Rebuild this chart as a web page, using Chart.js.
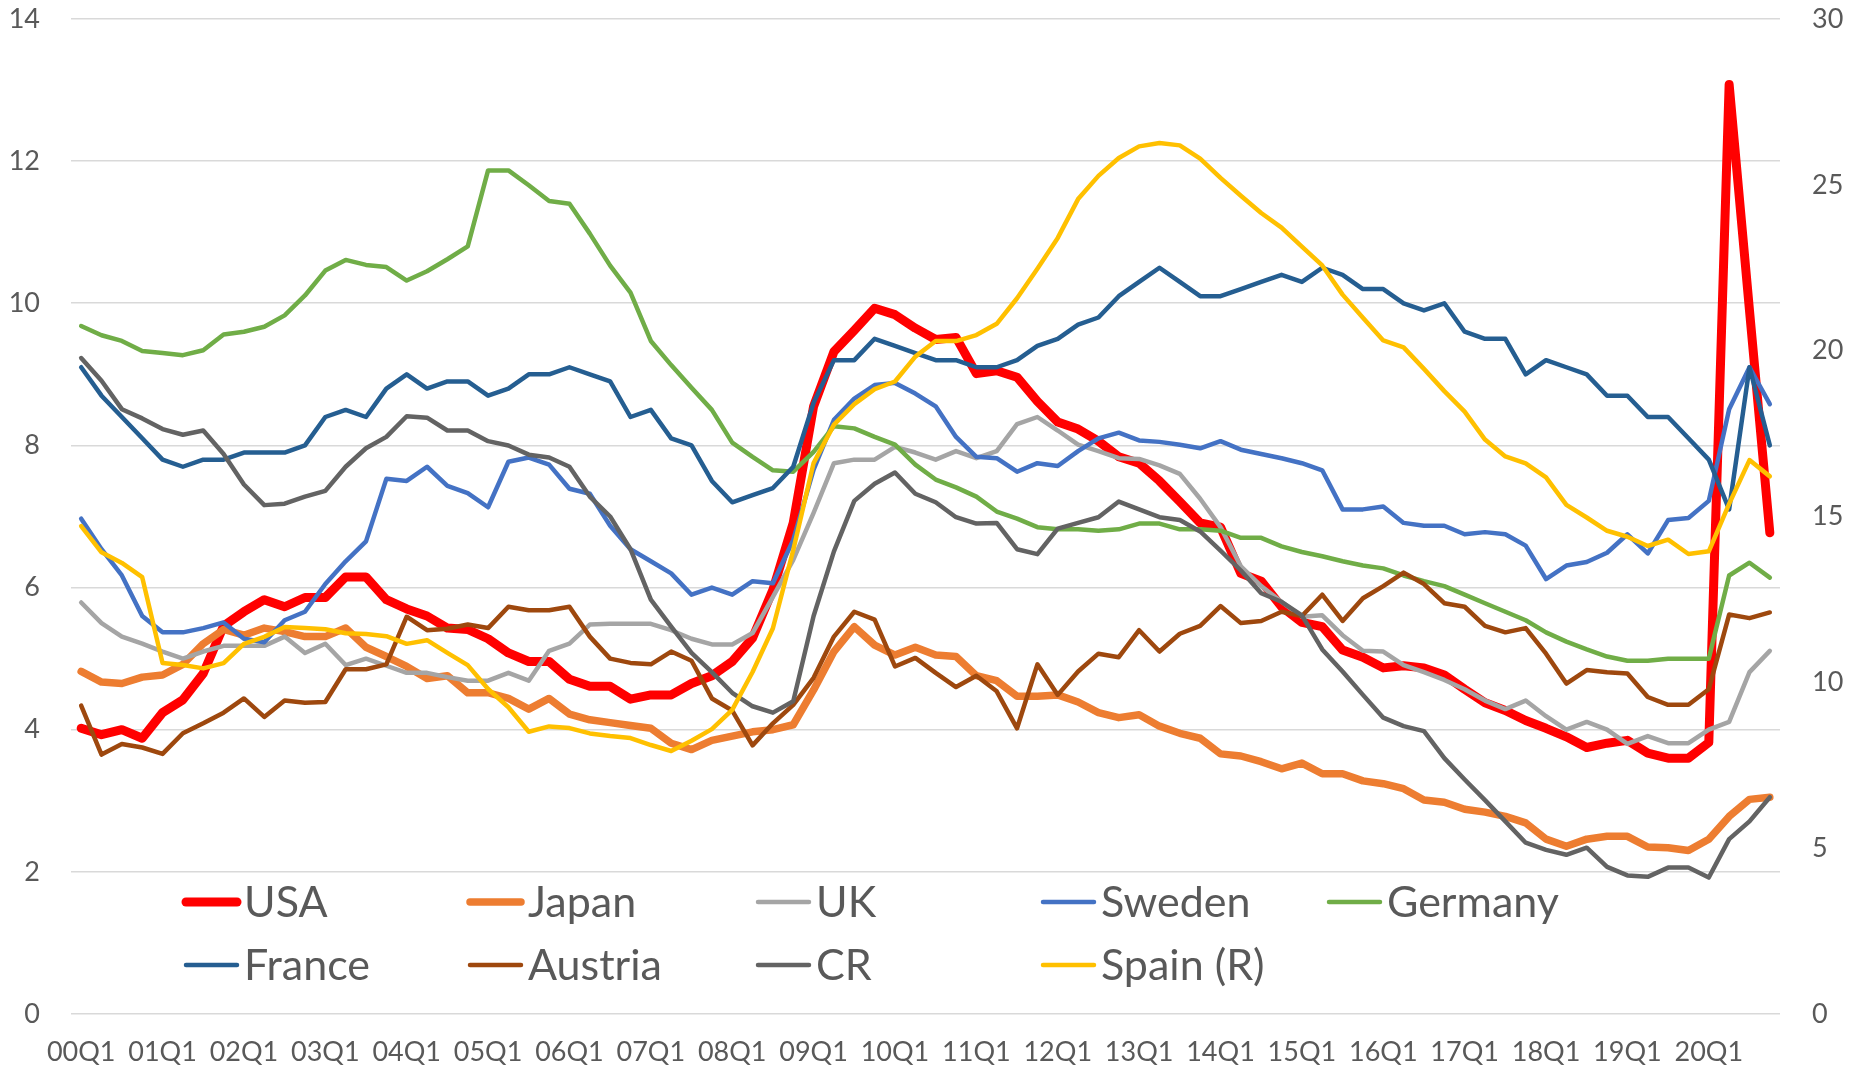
<!DOCTYPE html>
<html>
<head>
<meta charset="utf-8">
<script src="https://cdn.jsdelivr.net/npm/chart.js@4.4.1/dist/chart.umd.min.js"></script>
<style>
html,body{margin:0;padding:0;background:#ffffff;overflow:hidden}
canvas{display:block}
</style>
</head>
<body>
<canvas id="c" width="1856" height="1072"></canvas>
<script>
// ---------- DATA ----------
const categories = [
 "00Q1","00Q2","00Q3","00Q4","01Q1","01Q2","01Q3","01Q4","02Q1","02Q2","02Q3","02Q4",
 "03Q1","03Q2","03Q3","03Q4","04Q1","04Q2","04Q3","04Q4","05Q1","05Q2","05Q3","05Q4",
 "06Q1","06Q2","06Q3","06Q4","07Q1","07Q2","07Q3","07Q4","08Q1","08Q2","08Q3","08Q4",
 "09Q1","09Q2","09Q3","09Q4","10Q1","10Q2","10Q3","10Q4","11Q1","11Q2","11Q3","11Q4",
 "12Q1","12Q2","12Q3","12Q4","13Q1","13Q2","13Q3","13Q4","14Q1","14Q2","14Q3","14Q4",
 "15Q1","15Q2","15Q3","15Q4","16Q1","16Q2","16Q3","16Q4","17Q1","17Q2","17Q3","17Q4",
 "18Q1","18Q2","18Q3","18Q4","19Q1","19Q2","19Q3","19Q4","20Q1","20Q2","20Q3","20Q4"
];
const leftTicks = [0, 2, 4, 6, 8, 10, 12, 14];
const rightTicks = [0, 5, 10, 15, 20, 25, 30];

const usa = [4.02,3.93,4.00,3.88,4.24,4.42,4.79,5.46,5.66,5.83,5.73,5.86,5.86,6.15,6.15,5.83,5.70,5.60,5.43,5.41,5.28,5.08,4.96,4.96,4.71,4.61,4.61,
 4.43,4.49,4.49,4.65,4.76,4.96,5.29,5.97,6.91,
 8.55,9.32,9.62,9.93,9.84,9.65,9.49,9.52,9.01,9.05,8.96,8.62,8.33,8.23,8.06,7.84,7.75,7.50,7.21,6.91,6.85,
 6.20,6.09,5.73,5.51,5.45,5.12,5.02,4.87,4.90,4.87,4.77,4.57,4.38,4.27,4.13,4.02,3.90,3.75,3.81,3.85,3.67,3.60,3.60,3.82,13.08,9.90,6.77];
const japan = [4.82,4.67,4.65,4.74,4.77,4.92,5.21,5.41,5.33,5.43,5.38,5.31,5.31,5.43,5.16,5.03,4.89,4.72,4.76,4.52,4.52,4.44,4.29,4.44,4.22,4.14,4.10,
 4.06,4.02,3.81,3.72,3.85,3.91,3.97,4.00,4.07,4.56,5.10,5.45,5.19,5.05,5.16,5.05,5.03,4.76,4.69,4.47,4.47,4.49,4.39,4.24,4.17,4.21,4.05,3.95,3.88,3.66,
 3.63,3.55,3.45,3.53,3.38,3.38,3.28,3.24,3.17,3.01,2.98,2.88,2.84,2.78,2.69,2.46,2.36,2.46,2.50,2.50,2.35,2.34,2.30,2.46,2.78,3.02,3.05];
const uk = [5.79,5.50,5.31,5.21,5.10,5.00,5.10,5.18,5.18,5.18,5.31,5.08,5.21,4.91,5.00,4.90,4.80,4.80,4.74,4.69,4.69,4.80,4.69,5.11,5.21,5.48,5.49,
 5.49,5.49,5.40,5.28,5.20,5.20,5.36,5.87,6.39,7.05,7.75,7.80,7.80,7.98,7.90,7.80,7.92,7.82,7.92,8.30,8.40,8.21,8.01,7.92,7.82,7.81,7.72,7.60,7.25,6.85,
 6.30,6.02,5.80,5.59,5.61,5.33,5.11,5.10,4.91,4.81,4.70,4.57,4.41,4.29,4.41,4.19,4.00,4.11,4.00,3.80,3.91,3.81,3.81,4.00,4.11,4.81,5.11];
const sweden = [6.97,6.54,6.17,5.60,5.37,5.37,5.43,5.51,5.28,5.23,5.54,5.66,6.05,6.37,6.65,7.53,7.50,7.70,7.43,7.33,7.13,7.77,7.83,7.73,7.39,7.32,6.87,
 6.54,6.37,6.20,5.90,6.00,5.90,6.09,6.06,6.67,7.66,8.36,8.66,8.85,8.88,8.73,8.55,8.12,7.84,7.82,7.63,7.75,7.71,7.92,8.10,8.18,8.07,8.05,8.01,7.96,8.06,
 7.94,7.88,7.82,7.75,7.65,7.10,7.10,7.14,6.91,6.87,6.87,6.75,6.78,6.75,6.59,6.12,6.31,6.36,6.49,6.75,6.48,6.95,6.98,7.22,8.51,9.10,8.58];
const germany = [9.68,9.55,9.47,9.33,9.30,9.27,9.34,9.56,9.60,9.67,9.83,10.11,10.46,10.61,10.54,10.51,10.32,10.45,10.62,10.80,11.87,11.87,11.66,11.44,11.40,10.98,10.53,
 10.15,9.47,9.13,8.81,8.50,8.04,7.84,7.65,7.63,7.91,8.27,8.24,8.12,8.01,7.73,7.52,7.41,7.28,7.07,6.97,6.85,6.82,6.82,6.80,6.82,6.90,6.90,6.82,6.82,6.80,
 6.70,6.70,6.58,6.50,6.44,6.37,6.31,6.27,6.17,6.09,6.02,5.90,5.78,5.66,5.54,5.37,5.24,5.13,5.03,4.97,4.97,5.00,5.00,5.00,6.17,6.35,6.14];
const france = [9.1,8.7,8.4,8.1,7.8,7.7,7.8,7.8,7.9,7.9,7.9,8.0,8.4,8.5,8.4,8.8,9.0,8.8,8.9,8.9,8.7,8.8,9.0,9.0,9.1,9.0,8.9,
 8.4,8.5,8.1,8.0,7.5,7.2,7.3,7.4,7.7,8.6,9.2,9.2,9.5,9.4,9.3,9.2,9.2,9.1,9.1,9.2,9.4,9.5,9.7,9.8,10.1,10.3,10.5,10.3,10.1,10.1,
 10.2,10.3,10.4,10.3,10.5,10.4,10.2,10.2,10.0,9.9,10.0,9.6,9.5,9.5,9.0,9.2,9.1,9.0,8.7,8.7,8.4,8.4,8.1,7.8,7.1,9.1,8.0];
const austria = [4.34,3.65,3.80,3.75,3.66,3.95,4.09,4.24,4.44,4.18,4.41,4.38,4.39,4.85,4.85,4.92,5.59,5.40,5.42,5.48,5.43,5.73,5.68,5.68,5.73,5.31,5.00,
 4.94,4.92,5.10,4.97,4.44,4.27,3.78,4.09,4.35,4.73,5.31,5.66,5.55,4.89,5.01,4.80,4.60,4.76,4.54,4.02,4.92,4.49,4.82,5.07,5.02,5.40,5.10,5.35,5.46,5.74,
 5.50,5.53,5.66,5.60,5.90,5.53,5.85,6.02,6.21,6.05,5.78,5.73,5.46,5.37,5.43,5.07,4.65,4.84,4.81,4.79,4.46,4.35,4.35,4.57,5.62,5.57,5.65];
const cr = [9.23,8.91,8.51,8.38,8.23,8.15,8.21,7.88,7.45,7.16,7.18,7.28,7.36,7.70,7.96,8.12,8.41,8.39,8.21,8.21,8.06,8.00,7.87,7.83,7.70,7.28,7.00,
 6.54,5.83,5.45,5.08,4.81,4.52,4.33,4.24,4.40,5.60,6.51,7.22,7.46,7.62,7.32,7.20,6.99,6.90,6.91,6.54,6.47,6.83,6.91,6.99,7.21,7.10,6.99,6.95,6.79,6.52,
 6.24,5.92,5.80,5.61,5.13,4.82,4.49,4.17,4.05,3.98,3.60,3.30,3.01,2.71,2.41,2.31,2.24,2.34,2.07,1.95,1.93,2.06,2.06,1.92,2.46,2.71,3.05];
const spainR = [14.71,13.92,13.60,13.17,10.58,10.52,10.42,10.58,11.16,11.37,11.67,11.64,11.60,11.48,11.46,11.39,11.16,11.27,10.89,10.52,9.80,9.25,8.51,8.67,8.62,8.46,8.38,
 8.32,8.11,7.93,8.24,8.59,9.17,10.31,11.63,13.99,16.61,17.77,18.39,18.84,19.07,19.82,20.29,20.29,20.47,20.81,21.58,22.47,23.40,24.57,25.27,25.81,26.16,26.26,26.19,25.79,25.21,
 24.67,24.15,23.71,23.14,22.57,21.69,20.99,20.31,20.10,19.45,18.78,18.16,17.32,16.81,16.60,16.18,15.35,14.97,14.57,14.39,14.11,14.30,13.87,13.95,15.38,16.70,16.21];

// ---------- CHART ----------
const FONT = 'Lato, "Open Sans", "Liberation Sans", sans-serif';
const TXT = '#595959';

function ds(label, data, color, width, order, axis) {
  return {
    label, data, borderColor: color, backgroundColor: color,
    borderWidth: width, pointRadius: 0, pointHoverRadius: 0, tension: 0,
    borderJoinStyle: 'round', borderCapStyle: 'round', fill: false,
    order, yAxisID: axis || 'y'
  };
}

const datasets = [
  ds('USA', usa, '#FF0000', 9, 9),
  ds('Japan', japan, '#ED7D31', 7.5, 8),
  ds('UK', uk, '#A5A5A5', 4.5, 7),
  ds('Sweden', sweden, '#4472C4', 4.5, 6),
  ds('Germany', germany, '#70AD47', 4.5, 5),
  ds('France', france, '#255E91', 4.5, 4),
  ds('Austria', austria, '#9E480E', 4.5, 3),
  ds('CR', cr, '#636363', 4.5, 2),
  ds('Spain (R)', spainR, '#FFC000', 4.5, 1, 'y1')
];

const legendPlugin = {
  id: 'insideLegend',
  afterDatasetsDraw(chart) {
    const ctx = chart.ctx;
    const cols = [184, 468, 756, 1041, 1327];
    const rows = [902, 965];
    ctx.save();
    ctx.font = '43px ' + FONT;
    ctx.textBaseline = 'middle';
    ctx.textAlign = 'left';
    chart.data.datasets.forEach((d, k) => {
      const r = k < 5 ? 0 : 1;
      const c = k < 5 ? k : k - 5;
      const x = cols[c], y = rows[r];
      ctx.strokeStyle = d.borderColor;
      ctx.lineWidth = d.borderWidth;
      ctx.lineCap = 'round';
      ctx.beginPath();
      ctx.moveTo(x + 2, y);
      ctx.lineTo(x + 53, y);
      ctx.stroke();
      ctx.fillStyle = TXT;
      ctx.fillText(d.label, x + 60, y + 1);
    });
    ctx.restore();
  }
};

function noPad(s) {
  s.paddingTop = 0; s.paddingBottom = 0;
}

new Chart(document.getElementById('c'), {
  type: 'line',
  data: { labels: categories, datasets },
  options: {
    responsive: false,
    animation: false,
    devicePixelRatio: 1,
    layout: { padding: { top: 19, left: 0, right: 0, bottom: 0 } },
    plugins: { legend: { display: false }, tooltip: { enabled: false }, title: { display: false } },
    scales: {
      x: {
        type: 'category',
        offset: true,
        grid: { display: false, drawTicks: false },
        border: { display: false },
        ticks: {
          autoSkip: false, maxRotation: 0, minRotation: 0,
          padding: 22, color: TXT, font: { family: FONT, size: 27 },
          callback: function(v, i) { return i % 4 === 0 ? categories[i] : ''; }
        },
        afterFit(s) { s.height = 1072 - 1014; }
      },
      y: {
        position: 'left', min: 0, max: 14,
        afterBuildTicks(s) { s.ticks = leftTicks.map(v => ({ value: v })); },
        grid: { color: '#D9D9D9', lineWidth: 1.6, drawTicks: false },
        border: { display: false },
        ticks: { padding: 31, color: TXT, font: { family: FONT, size: 27 } },
        afterFit(s) { s.width = 71; noPad(s); }
      },
      y1: {
        position: 'right', min: 0, max: 30,
        afterBuildTicks(s) { s.ticks = rightTicks.map(v => ({ value: v })); },
        grid: { display: false, drawTicks: false },
        border: { display: false },
        ticks: { padding: 32, color: TXT, font: { family: FONT, size: 27 } },
        afterFit(s) { s.width = 1856 - 1780; noPad(s); }
      }
    }
  },
  plugins: [legendPlugin]
});
</script>
</body>
</html>
